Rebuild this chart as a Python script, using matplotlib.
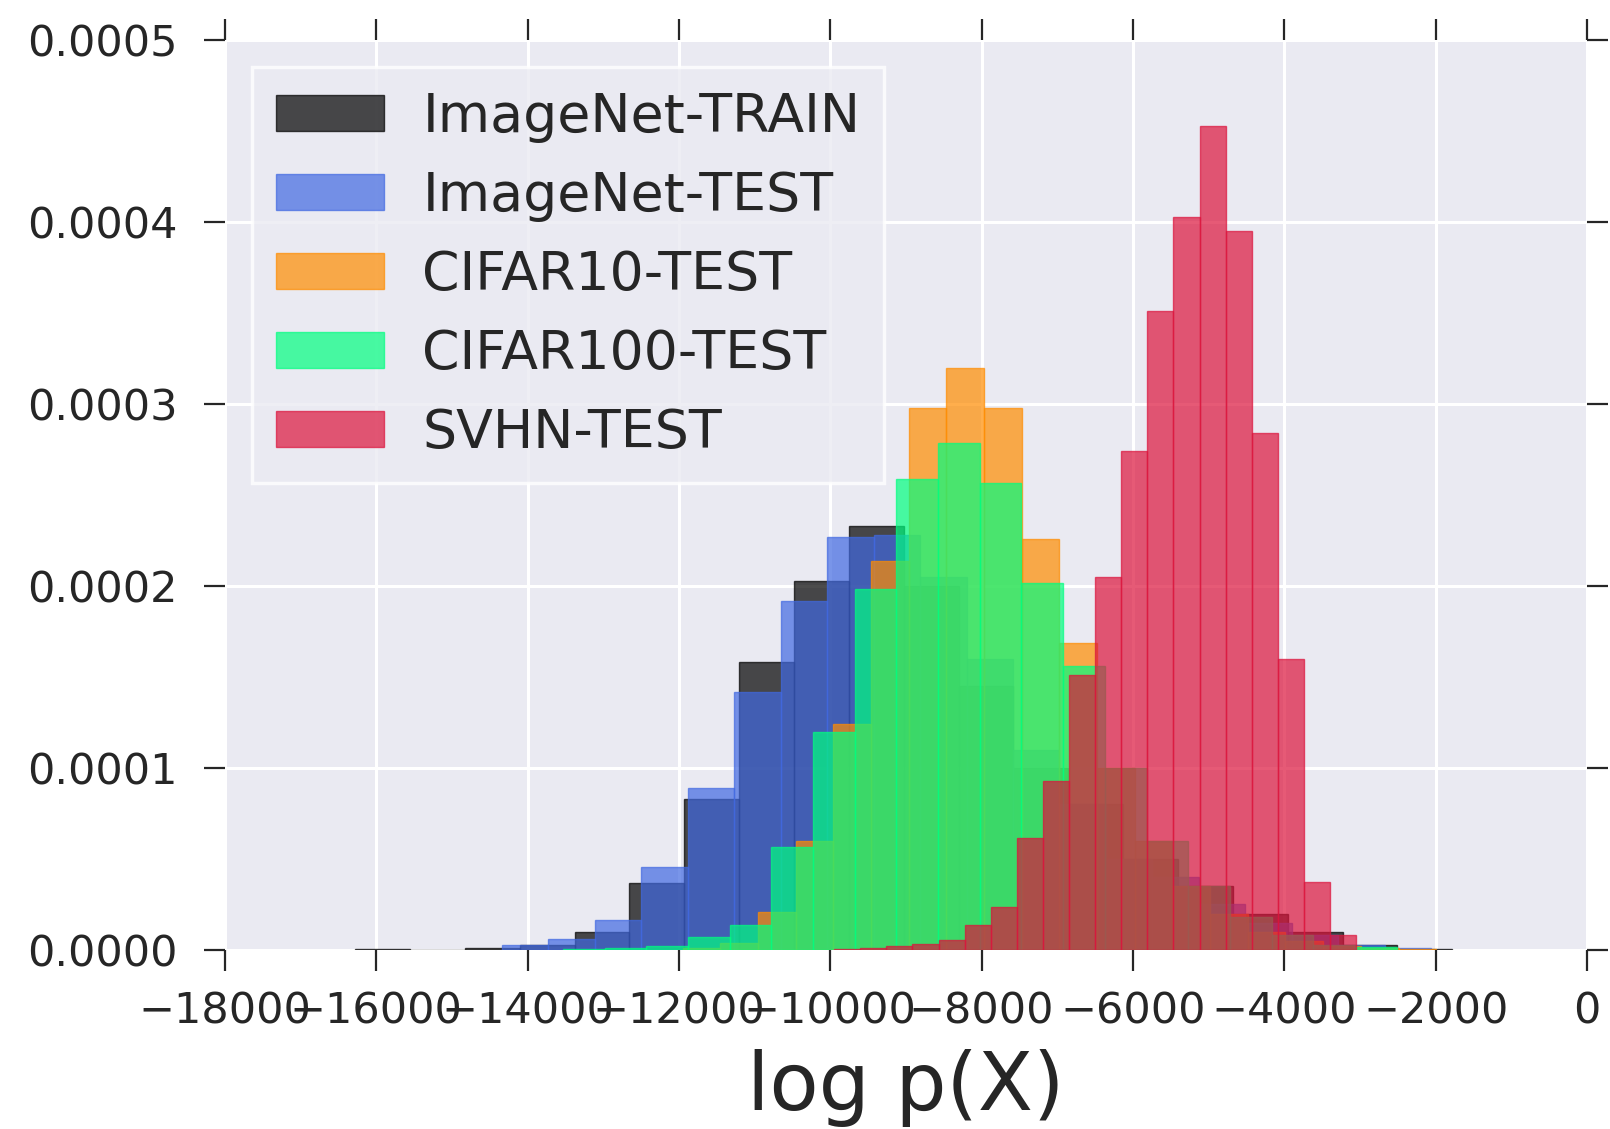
import numpy as np
import matplotlib
matplotlib.use("Agg")
import matplotlib.pyplot as plt
from matplotlib.ticker import FormatStrFormatter

# normalised histograms of log p(X), 20 bins per dataset
labels = ["ImageNet-TRAIN", "ImageNet-TEST", "CIFAR10-TEST", "CIFAR100-TEST", "SVHN-TEST"]
colors = ["black", "royalblue", "darkorange", "springgreen", "crimson"]

# first bin edge and bin width of each histogram
bin_start = [-16280, -14340, -11953, -13535, -9950]
bin_width = [725, 614, 498, 551, 345]

imagenet_train = [0.0000008, 0.0, 0.000001, 0.0000025, 0.00001, 0.000037, 0.000083,
                  0.000158, 0.000203, 0.000233, 0.0002, 0.000145, 0.0001, 0.00008,
                  0.00005, 0.000035, 0.00002, 0.00001, 0.000003, 0.0000008]
imagenet_test = [0.000003, 0.000006, 0.0000164, 0.0000455, 0.000089, 0.000142, 0.000192,
                 0.000227, 0.000228, 0.000205, 0.00016, 0.00011, 0.00008, 0.00005,
                 0.00004, 0.000025, 0.000015, 0.000008, 0.000003, 0.000001]
cifar10_test = [0.000001, 0.000004, 0.0000209, 0.00006, 0.000124, 0.0002137, 0.000298,
                0.00032, 0.000298, 0.0002258, 0.0001685, 0.0001, 0.00006, 0.000035,
                0.00002, 0.00001, 0.000005, 0.000002, 0.000001, 0.0000005]
cifar100_test = [0.0000005, 0.000001, 0.000002, 0.0000072, 0.0000139, 0.0000567, 0.00012,
                 0.0001986, 0.0002587, 0.0002785, 0.0002566, 0.0002017, 0.000156, 0.0001,
                 0.00006, 0.000035, 0.000018, 0.000008, 0.000003, 0.0000015]
svhn_test = [0.0000005, 0.000001, 0.000002, 0.0000035, 0.0000057, 0.000014, 0.0000234,
             0.0000616, 0.000093, 0.000151, 0.000205, 0.000274, 0.000351, 0.000403,
             0.000453, 0.000395, 0.000284, 0.00016, 0.0000375, 0.0000084]
densities = [imagenet_train, imagenet_test, cifar10_test, cifar100_test, svhn_test]

x_ticks = [-18000, -16000, -14000, -12000, -10000, -8000, -6000, -4000, -2000, 0]
y_ticks = [0.0, 0.0001, 0.0002, 0.0003, 0.0004, 0.0005]

plt.rcParams['font.family'] = ['DejaVu Sans']
fig = plt.figure(figsize=(16.1, 11.29), dpi=100)
ax = fig.add_axes([0.13975, 0.15855, 0.84596, 0.80602])
ax.set_facecolor('#EAEAF2')
ax.set_axisbelow(True)
ax.grid(True, color='white', linewidth=2.2)
for s in ax.spines.values():
    s.set_visible(False)

for name, c, start, w, h in zip(labels, colors, bin_start, bin_width, densities):
    edges = start + w * np.arange(len(h) + 1)
    ax.bar(edges[:-1], h, width=np.diff(edges), align='edge', color=c,
           alpha=0.7, edgecolor=c, linewidth=1.0, label=name)

ax.set_xlim(-18000, 0)
ax.set_ylim(0, 0.0005)
ax.set_xticks(x_ticks)
ax.set_yticks(y_ticks)
ax.yaxis.set_major_formatter(FormatStrFormatter('%.4f'))
ax.tick_params(direction='out', length=15, width=1.6, color='#262626',
               labelcolor='#262626', labelsize=31, top=True, right=True)
ax.tick_params(axis='y', pad=19)
ax.tick_params(axis='x', pad=14)
ax.set_xlabel('log p(X)', fontsize=58, color='#262626', labelpad=12)

leg = ax.legend(loc='upper left', fontsize=38.7, handlelength=2.0, handleheight=0.66,
                labelspacing=0.5, handletextpad=0.72, borderpad=0.45,
                borderaxespad=0.5, fancybox=False, framealpha=0.8)
leg.get_frame().set_facecolor('#EAEAF2')
leg.get_frame().set_edgecolor('white')
leg.get_frame().set_linewidth(2.5)
for t in leg.get_texts():
    t.set_color('#262626')

fig.savefig('out.png', dpi=100)
